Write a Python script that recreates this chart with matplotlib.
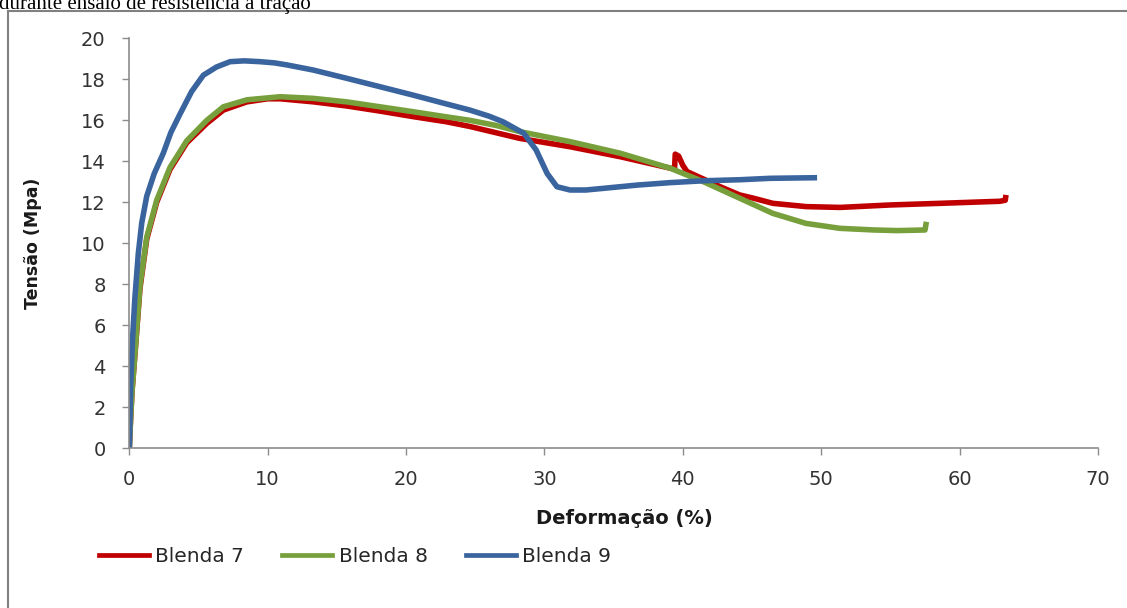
import matplotlib
matplotlib.use("Agg")
import matplotlib.pyplot as plt
from matplotlib.lines import Line2D

# ---- data ----
x_b7 = [0, 0.05, 0.1, 0.2, 0.41, 0.77, 1.26, 1.98, 2.94, 4.15, 5.6, 6.8, 8.5, 10.0, 10.9,
        13.3, 15.7, 18.1, 20.5, 22.9, 24.6, 28.2, 31.85, 35.5, 38.6, 39.4, 39.45, 39.7,
        40.0, 40.3, 42.7, 44.1, 45.1, 46.5, 48.9, 51.35, 55.0, 58.6, 62.9, 63.3, 63.35]
y_b7 = [0, 0.8, 1.5, 2.8, 4.6, 7.8, 10.2, 12.0, 13.6, 14.9, 15.85, 16.5, 16.9, 17.05, 17.05,
        16.9, 16.7, 16.45, 16.18, 15.93, 15.7, 15.12, 14.71, 14.22, 13.74, 13.62, 14.35, 14.25,
        13.8, 13.5, 12.76, 12.36, 12.2, 11.95, 11.79, 11.75, 11.87, 11.95, 12.05, 12.1, 12.36]

x_b8 = [0, 0.1, 0.2, 0.41, 0.77, 1.26, 1.98, 2.94, 4.15, 5.6, 6.8, 8.5, 10.9, 13.3, 15.7,
        18.1, 20.5, 22.9, 24.6, 26.5, 28.2, 31.85, 35.5, 39.1, 41.5, 44.1, 46.5, 48.9,
        51.35, 53.8, 55.5, 57.5, 57.6]
y_b8 = [0, 1.5, 2.8, 4.63, 7.9, 10.3, 12.1, 13.7, 15.0, 16.0, 16.66, 17.0, 17.15, 17.07, 16.9,
        16.66, 16.42, 16.17, 16.0, 15.75, 15.45, 14.96, 14.39, 13.66, 13.0, 12.2, 11.46, 10.97,
        10.73, 10.65, 10.62, 10.65, 11.05]

x_b9 = [0, 0.1, 0.24, 0.4, 0.65, 0.9, 1.26, 1.8, 2.46, 3.0, 3.66, 4.5, 5.35, 6.3, 7.28, 8.3,
        9.45, 10.5, 11.4, 13.3, 15.7, 18.1, 20.5, 22.9, 24.6, 26.0, 27.0, 28.5, 29.4, 30.2,
        30.9, 31.85, 33.0, 34.25, 36.7, 39.1, 41.5, 44.1, 46.3, 49.7]
y_b9 = [0, 3.0, 5.4, 7.3, 9.5, 11.0, 12.3, 13.4, 14.4, 15.4, 16.3, 17.4, 18.2, 18.6, 18.86, 18.9,
        18.86, 18.8, 18.7, 18.45, 18.05, 17.64, 17.23, 16.8, 16.5, 16.2, 15.93, 15.37, 14.55, 13.4,
        12.76, 12.6, 12.6, 12.68, 12.84, 12.96, 13.05, 13.1, 13.17, 13.2]

series_names = ["Blenda 7", "Blenda 8", "Blenda 9"]
x_ticks = [0, 10, 20, 30, 40, 50, 60, 70]
y_ticks = [0, 2, 4, 6, 8, 10, 12, 14, 16, 18, 20]

colors = ["#C00000", "#77A03C", "#3A649E"]
W, H = 1127, 608
plt.rcParams['font.family'] = ['DejaVu Sans']

fig = plt.figure(figsize=(W / 100, H / 100), dpi=100)
ax = fig.add_axes([129.3 / W, 1 - 448.3 / H, (1098 - 129.3) / W, (448.3 - 38.3) / H])

lw = 4.0
ax.plot(x_b7, y_b7, color=colors[0], lw=lw, solid_capstyle='butt', solid_joinstyle='round')
ax.plot(x_b8, y_b8, color=colors[1], lw=lw, solid_capstyle='butt', solid_joinstyle='round')
ax.plot(x_b9, y_b9, color=colors[2], lw=lw, solid_capstyle='butt', solid_joinstyle='round')

ax.set_xlim(0, 70)
ax.set_ylim(0, 20)
ax.set_xticks(x_ticks)
ax.set_yticks(y_ticks)
ax.set_xticklabels([str(v) for v in x_ticks])
ax.set_yticklabels([str(v) for v in y_ticks])
for s in ['top', 'right']:
    ax.spines[s].set_visible(False)
for s in ['left', 'bottom']:
    ax.spines[s].set_color('#8C8C8C')
    ax.spines[s].set_linewidth(1.2)
ax.tick_params(axis='both', direction='out', length=5, width=1, color='#8C8C8C',
               labelsize=14, labelcolor='#333333')
ax.tick_params(axis='y', pad=12)
ax.tick_params(axis='x', pad=10.5)

fig.text(33 / W, 1 - 243 / H, "Tensão (Mpa)", rotation=90, ha='center', va='center',
         fontsize=12.5, fontweight='bold', color='#1a1a1a')
fig.text(624 / W, 1 - 519 / H, "Deformação (%)", ha='center', va='center',
         fontsize=14, fontweight='bold', color='#1a1a1a')

handles = [Line2D([], [], color=c, lw=3.4) for c in colors]
fig.legend(handles, series_names, loc='center left', bbox_to_anchor=(98.6 / W, 1 - 557 / H),
           ncol=3, frameon=False, fontsize=14.5, handlelength=2.5, handletextpad=0.3,
           columnspacing=1.9, borderpad=0, borderaxespad=0, labelcolor='#262626')

# outer frame (top and left edges visible)
fig.add_artist(Line2D([8 / W, 8 / W], [0, 1 - 11 / H], transform=fig.transFigure,
                      color='#808080', lw=1.5))
fig.add_artist(Line2D([8 / W, 1], [1 - 11 / H, 1 - 11 / H], transform=fig.transFigure,
                      color='#808080', lw=1.5))

# cropped caption at top
fig.text(-0.001, 1 - 9 / H, "durante ensaio de resistência à tração", ha='left',
         va='baseline', fontsize=15, family=['Liberation Serif', 'DejaVu Serif'], color='black')

fig.savefig("out.png", dpi=100)
